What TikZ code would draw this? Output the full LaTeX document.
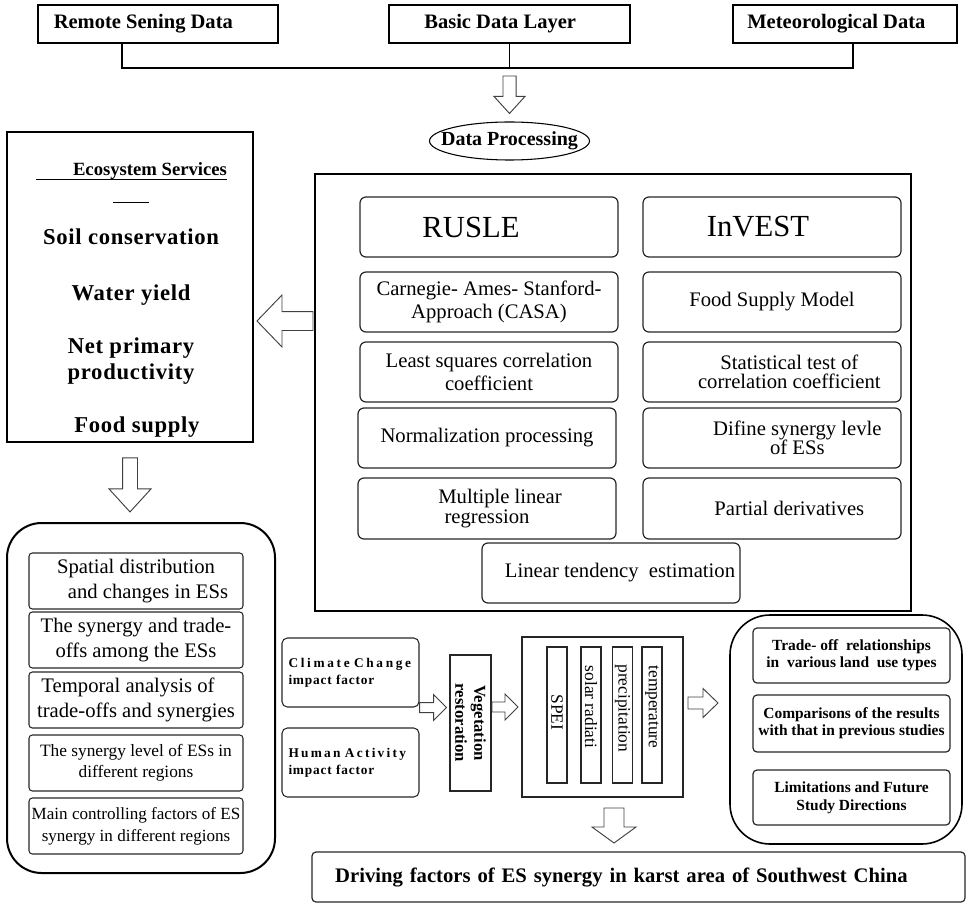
\documentclass[tikz,border=0pt]{standalone}
\usepackage{fontspec}
\setmainfont{Liberation Serif}
\usepackage{tikz}
\usetikzlibrary{calc}
\usetikzlibrary{shapes}
\newcommand{\fsz}[2]{\fontsize{#1}{#2}\selectfont}
\newcommand{\hollowarrow}[5]{\coordinate (hb) at ($(#2)!#5!(#1)$); \draw[arrowline] ($(#1)!#3!90:(#2)$) -- ($(hb)!#3!90:(#2)$) -- ($(hb)!#4!90:(#2)$) -- (#2) -- ($(hb)!#4!-90:(#2)$) -- ($(hb)!#3!-90:(#2)$) -- ($(#1)!#3!-90:(#2)$) -- cycle;}
\tikzset{
  arrowline/.style={draw=black!75, line width=0.7pt, fill=white, line join=miter},
  srcbox/.style={draw, line width=1.6pt, minimum height=28.5pt, inner sep=2pt, font=\fsz{15.4}{18}\bfseries},
  bigframe/.style={draw, line width=1.4pt, inner sep=0pt},
  esitem/.style={inner sep=0pt, align=center, font=\fsz{17}{19.5}\bfseries\addfontfeatures{LetterSpace=3}},
  modelbox/.style={draw=black!85, rounded corners=4.5pt, line width=0.9pt, minimum width=193.5pt, minimum height=45pt, inner sep=1pt, align=center, font=\fsz{15.5}{17.25}},
  resbox/.style={draw=black!85, rounded corners=2.5pt, line width=0.8pt, minimum width=160.5pt, minimum height=42pt, inner sep=1pt, align=center, font=\fsz{15.5}{18.75}},
  impactbox/.style={draw=black!85, rounded corners=4pt, line width=0.8pt, minimum width=102.75pt, minimum height=51.75pt, inner xsep=4.5pt, text width=93pt, align=left, font=\fsz{10}{12.75}\bfseries},
  factorbox/.style={draw=black!85, line width=0.8pt, rotate=-90, minimum width=102pt, minimum height=15pt, inner sep=0pt, font=\fsz{13}{15}},
  discbox/.style={draw=black!85, rounded corners=3pt, line width=0.9pt, minimum width=147.75pt, minimum height=41.25pt, inner sep=1pt, align=center, font=\fsz{11.6}{12.5}\bfseries}
}

\begin{document}
\begin{tikzpicture}[x=0.75pt,y=-0.75pt]
    \useasboundingbox (0,0) rectangle (966,905);
    % data sources
    \node[srcbox, minimum width=180pt] (remote) at (158,24) {Remote Sening Data\hspace*{22pt}};
    \node[srcbox, minimum width=180.75pt] (basic) at (509.5,24) {Basic Data Layer\hspace*{14pt}};
    \node[srcbox, minimum width=168pt] (meteo) at (845,24) {Meteorological Data\hspace*{13pt}};
    \coordinate (busL) at (122,68);
    \coordinate (busR) at (853,68);
    \draw[line width=0.8pt] (busL |- remote.south) -- (busL) -- (busR) -- (busR |- meteo.south);
    \draw[line width=0.8pt] (basic.south) -- (basic.south |- busL);
    % processing
    \node[ellipse, draw, line width=0.8pt, minimum width=120pt, minimum height=28.5pt, inner sep=0pt, font=\fsz{15}{18}\bfseries] (proc) at (509.5,141) {\makebox[0pt]{Data Processing}};
    \coordinate (a1s) at ($(basic.south |- busL)+(0,8)$);
    \coordinate (a1e) at ($(proc.north)+(0,-8)$);
    \hollowarrow{a1s}{a1e}{4.9pt}{11.6pt}{12.75pt}
    % ecosystem services
    \node[bigframe, minimum width=184.5pt, minimum height=232.5pt] (eco) at (130,287) {};
    \node[inner sep=0pt, font=\fsz{14}{16}\bfseries] (ecohead) at (150,171) {Ecosystem Services};
    \draw[line width=0.7pt] ($(ecohead.base west)+(-37,4)$) -- ($(ecohead.base east)+(0,4)$);
    \draw[line width=0.7pt] (113,202) -- (149,202);
    \node[esitem] (soil) at (131,237) {Soil conservation};
    \node[esitem] (water) at (131,295) {Water yield};
    \node[esitem] (npp) at (131,361) {Net primary\\productivity};
    \node[esitem] (food) at (137,427) {Food supply};
    % models
    \node[bigframe, line width=1.5pt, minimum width=447pt, minimum height=327.75pt] (model) at (613,392.5) {};
    \node[modelbox, font=\fsz{23}{26}] (rusle) at (489,227) {RUSLE\hspace*{27pt}};
    \node[modelbox, font=\fsz{23}{26}] (invest) at (772,227) {InVEST\hspace*{21pt}};
    \node[modelbox] (casa) at (489,302) {Carnegie- Ames- Stanford-\\Approach (CASA)};
    \node[modelbox] (fsm) at (772,302) {Food Supply Model};
    \node[modelbox] (lsq) at (489,372) {Least squares correlation\\coefficient};
    \node[modelbox, font=\fsz{15.5}{14.5}] (stat) at (772,372) {\hspace*{26pt}Statistical test of\\\hspace*{26pt}correlation coefficient};
    \node[modelbox] (norm) at (487,438) {Normalization processing};
    \node[modelbox, font=\fsz{15.5}{14.5}] (defl) at (772,438) {\hspace*{38pt}Difine synergy levle\\\hspace*{38pt}of ESs};
    \node[modelbox, font=\fsz{15.5}{14.5}, minimum height=45.75pt] (mlr) at (487,508.5) {\hspace*{19.5pt}Multiple linear\\regression};
    \node[modelbox, minimum height=45.75pt] (pder) at (772,508.5) {\hspace*{26pt}Partial derivatives};
    \node[modelbox] (lte) at (611,573) {\hspace*{13.5pt}Linear tendency\ \ estimation};
    \coordinate (a2s) at (313,321);
    \coordinate (a2e) at (257,321);
    \hollowarrow{a2s}{a2e}{7.1pt}{19.5pt}{18.75pt}
    % results
    \node[bigframe, rounded corners=26pt, line width=1.5pt, minimum width=201pt, minimum height=262.5pt] (res) at (141,698) {};
    \coordinate (a3s) at ($(eco.south)+(0,15)$);
    \coordinate (a3e) at ($(eco.south)+(0,69)$);
    \hollowarrow{a3s}{a3e}{5.6pt}{15.75pt}{17.25pt}
    \node[resbox] (r1) at (136,581) {Spatial distribution\\\hspace*{18pt}and changes in ESs};
    \node[resbox] (r2) at (136,640) {The synergy and trade-\\offs among the ESs};
    \node[resbox] (r3) at (136,700) {Temporal analysis of\hspace*{12pt}\\trade-offs and synergies};
    \node[resbox, font=\fsz{13}{15.4}] (r4) at (136,763) {The synergy level of ESs in\\different regions};
    \node[resbox, inner xsep=0pt, font=\fsz{12.8}{16.3}] (r5) at (136,826) {Main controlling factors of ES\\synergy in different regions};
    % driving factors
    \node[impactbox] (clim) at (350.5,672.5) {\addfontfeatures{LetterSpace=20}Climate Change\\\addfontfeatures{LetterSpace=6}impact factor};
    \node[impactbox] (hum) at (350.5,762.5) {\addfontfeatures{LetterSpace=17}Human Activity\\\addfontfeatures{LetterSpace=6}impact factor};
    \node[draw=black!85, line width=0.8pt, rotate=-90, minimum width=102pt, minimum height=30.75pt, inner sep=0pt, align=center, font=\fsz{12.5}{14.25}\bfseries] (veg) at (470.5,723) {Vegetation\\restoration};
    \node[draw=black!85, line width=0.8pt, minimum width=120.75pt, minimum height=120pt] (drv) at (602.5,717) {};
    \node[factorbox] (spei) at (557,715) {SPEI\hspace*{4pt}};
    \node[factorbox] (solar) at (591,715) {solar radiati\hspace*{12pt}};
    \node[factorbox] (prec) at (622.5,715) {precipitation\hspace*{10pt}};
    \node[factorbox] (temp) at (652,715) {temperature\hspace*{12pt}};
    \coordinate (a4s) at (clim.south east);
    \coordinate (a4e) at ($(clim.south east)+(27,0)$);
    \hollowarrow{a4s}{a4e}{3.75pt}{9.75pt}{9.75pt}
    \coordinate (a5s) at (492,707);
    \coordinate (a5e) at (518,707);
    \hollowarrow{a5s}{a5e}{3.75pt}{9.75pt}{9.75pt}
    \coordinate (a6s) at (688,703);
    \coordinate (a6e) at (718,703);
    \hollowarrow{a6s}{a6e}{4.5pt}{10.9pt}{11.25pt}
    % discussion
    \node[bigframe, rounded corners=30pt, line width=1.2pt, minimum width=174pt, minimum height=171.75pt] (disc) at (846,729.5) {};
    \node[discbox] (d1) at (851.5,655.5) {Trade- off\ \ relationships\\in\ \ various land\ \ use types};
    \node[discbox, minimum height=42.75pt] (d2) at (851.5,723.5) {Comparisons of the results\\with that in previous studies};
    \node[discbox, font=\fsz{11.6}{13.5}\bfseries] (d3) at (851.5,797.5) {Limitations and Future\\Study Directions};
    % conclusion
    \coordinate (a7s) at (614,808);
    \coordinate (a7e) at (614,843);
    \hollowarrow{a7s}{a7e}{7.5pt}{16.5pt}{12pt}
    \node[draw=black!85, rounded corners=3pt, line width=0.9pt, minimum width=489.75pt, minimum height=37.5pt, inner xsep=17.25pt, text width=455pt, align=left, font=\fsz{15.5}{18}\bfseries] (out) at (638.5,877) {Driving factors of ES synergy in karst area of Southwest China};
\end{tikzpicture}
\end{document}
